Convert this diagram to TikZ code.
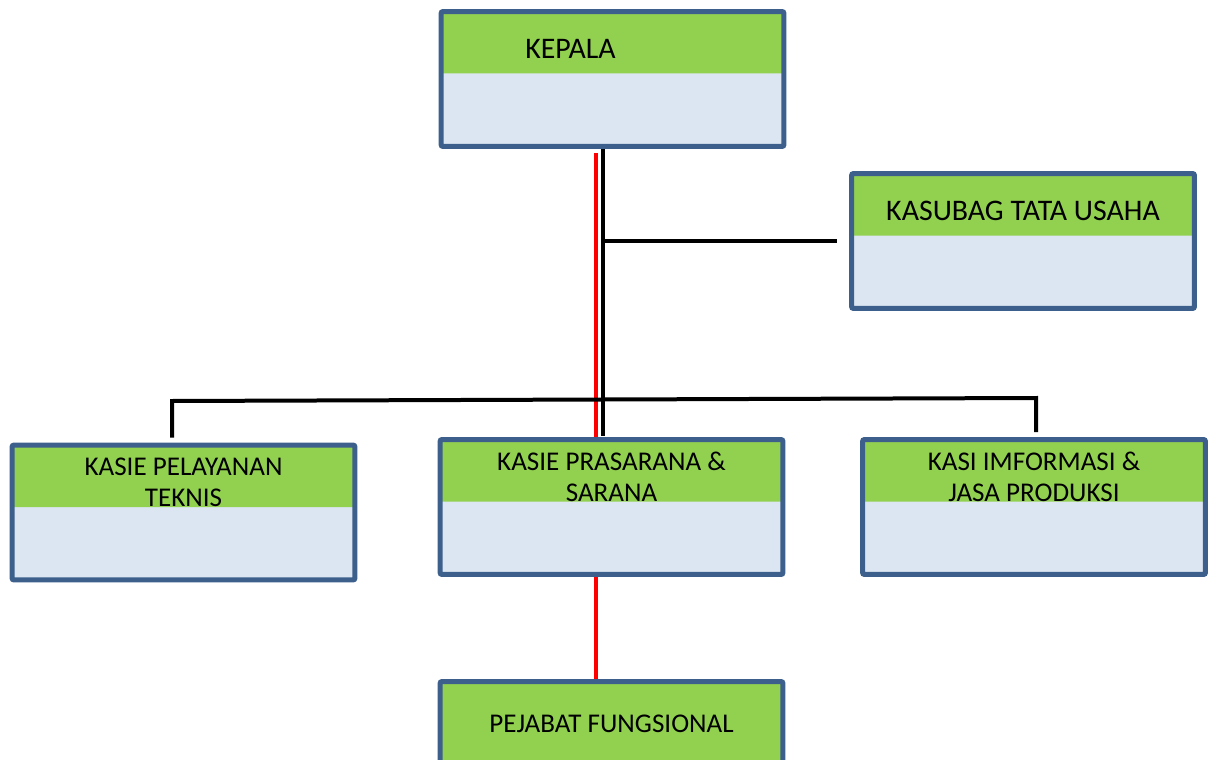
\documentclass[tikz,border=0pt]{standalone}
\usepackage{fontspec}
\setmainfont{Carlito}
\usetikzlibrary{calc}
\definecolor{headgreen}{HTML}{92D050}
\definecolor{bodyblue}{HTML}{DCE6F2}
\definecolor{frameblue}{HTML}{3C5F8C}
\tikzset{
  unit/.style={draw=frameblue, line width=0.1cm, rounded corners=0.04cm, fill=bodyblue,
    minimum width=6.86cm, minimum height=2.7cm, inner sep=0pt,
    path picture={\fill[headgreen] (path picture bounding box.north west) rectangle ([yshift=-1.24cm]path picture bounding box.north east);}},
  fungsi/.style={unit, fill=headgreen},
  title/.style={font=\fontsize{#1}{17.8}\selectfont, align=center, inner sep=0pt},
  title/.default=15.4,
  link/.style={line width=0.08cm, black},
  redlink/.style={line width=0.07cm, red}
}
\begin{document}
\begin{tikzpicture}[x=0.02cm, y=-0.02cm]
    \useasboundingbox (0,0) rectangle (1213,760);
    % units with their titles
    \foreach \nm/\pos/\dx/\fs/\txt in {kepala/{612.5,79}/-42/17/{KEPALA}, kasubag/{1023,241}/0/17/{KASUBAG TATA USAHA},
            pelayanan/{183.5,512.5}/0/15.4/{KASIE PELAYANAN\\TEKNIS}, prasarana/{611.5,507}/0/15.4/{KASIE PRASARANA \&\\SARANA},
            informasi/{1034,507}/0/15.4/{KASI IMFORMASI \&\\JASA PRODUKSI}} {
        \node[unit] (\nm) at (\pos) {};
        \node[title=\fs] (\nm-t) at ($(\nm.north)+(\dx,40)$) {\txt};
    }
    \node[fungsi] (pejabat) at (611.5,749) {};
    \node[title] (pejabat-t) at ($(pejabat.north)+(0,45)$) {PEJABAT FUNGSIONAL};
    % lines
    \coordinate (redtop) at ($(kepala.south)+(-16.5,4)$);
    \draw[redlink] (redtop) -- (redtop |- prasarana.north);
    \draw[redlink] (redtop |- prasarana.south) -- (redtop |- pejabat.north);
    \coordinate (trunk) at ($(kepala.south)+(-9.5,0)$);
    \draw[link] (trunk) -- ($(trunk |- prasarana.north)+(0,-1)$);
    \draw[link] (trunk |- kasubag.west) -- ($(kasubag.west)+(-12,0)$);
    \coordinate (busL) at (172,401);
    \coordinate (busR) at (1036,398);
    \draw[link] ($(busL |- pelayanan.north)+(0,-5)$) -- (busL) -- (busR) -- ($(busR |- informasi.north)+(0,-5)$);
    \draw[link] (busR) -- ++(0,-2);
\end{tikzpicture}
\end{document}
